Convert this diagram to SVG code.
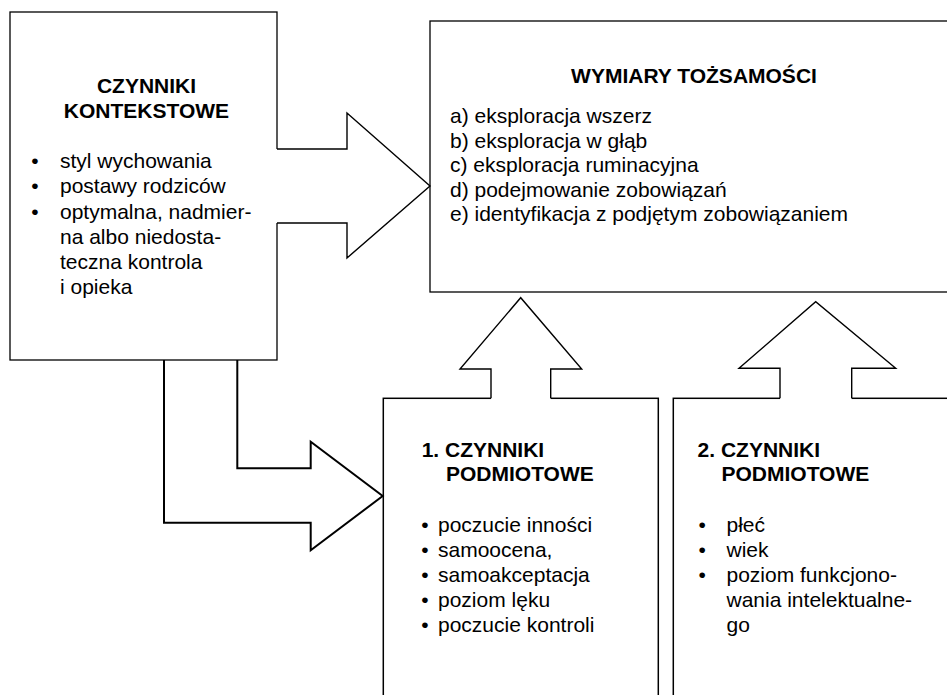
<svg xmlns="http://www.w3.org/2000/svg" width="947" height="695" viewBox="0 0 947 695">
<style>
.box{fill:#fff;stroke:#000;stroke-width:1.3}
.box2{fill:#fff;stroke:#000;stroke-width:1.5}
.t{font-family:"Liberation Sans",Arial,sans-serif;font-size:21px;fill:#000}
.bl{font-family:"Liberation Sans",Arial,sans-serif;font-size:21px;fill:#000}
.b{font-weight:bold}
.mid{text-anchor:middle}
.afill{fill:#fff;stroke:none}
.aline{fill:none;stroke:#000;stroke-width:1.4;stroke-linejoin:miter}
.aline2{fill:none;stroke:#000;stroke-width:2}
</style>
<rect width="947" height="695" fill="#fff"/>
<g id="kontekstowe">
<rect class="box" x="10" y="12" width="267" height="348"/>
<text class="t b mid" x="146.5" y="93.3">CZYNNIKI</text>
<text class="t b mid" x="146.5" y="118.3">KONTEKSTOWE</text>
<text class="bl" x="31.3" y="167.5">•</text>
<text class="t" x="60" y="167.5">styl wychowania</text>
<text class="bl" x="31.3" y="193">•</text>
<text class="t" x="60" y="193">postawy rodziców</text>
<text class="bl" x="31.3" y="218.5">•</text>
<text class="t" x="60" y="218.5">optymalna, nadmier-</text>
<text class="t" x="60" y="243.5">na albo niedosta-</text>
<text class="t" x="60" y="268.5">teczna kontrola</text>
<text class="t" x="60" y="293.5">i opieka</text>
</g>
<g id="wymiary">
<rect class="box" x="430" y="21" width="530" height="271"/>
<text class="t b mid" x="694" y="82.5">WYMIARY TOŻSAMOŚCI</text>
<text class="t" x="450" y="123">a) eksploracja wszerz</text>
<text class="t" x="450" y="147.5">b) eksploracja w głąb</text>
<text class="t" x="450" y="172">c) eksploracja ruminacyjna</text>
<text class="t" x="450" y="196.5">d) podejmowanie zobowiązań</text>
<text class="t" x="450" y="221">e) identyfikacja z podjętym zobowiązaniem</text>
</g>
<g id="podmiotowe1">
<rect class="box2" x="383.3" y="398.3" width="275" height="320"/>
<text class="t b" x="421.7" y="457.3">1. CZYNNIKI</text>
<text class="t b" x="446" y="481">PODMIOTOWE</text>
<text class="bl" x="421.3" y="532.2">•</text>
<text class="t" x="438" y="532.2">poczucie inności</text>
<text class="bl" x="421.3" y="557.2">•</text>
<text class="t" x="438" y="557.2">samoocena,</text>
<text class="bl" x="421.3" y="582.2">•</text>
<text class="t" x="438" y="582.2">samoakceptacja</text>
<text class="bl" x="421.3" y="607.2">•</text>
<text class="t" x="438" y="607.2">poziom lęku</text>
<text class="bl" x="421.3" y="632.2">•</text>
<text class="t" x="438" y="632.2">poczucie kontroli</text>
</g>
<g id="podmiotowe2">
<rect class="box2" x="673.3" y="398.3" width="300" height="320"/>
<text class="t b" x="697.6" y="457.3">2. CZYNNIKI</text>
<text class="t b" x="721.5" y="481">PODMIOTOWE</text>
<text class="bl" x="698.6" y="532.2">•</text>
<text class="t" x="726.5" y="532.2">płeć</text>
<text class="bl" x="698.6" y="557.2">•</text>
<text class="t" x="726.5" y="557.2">wiek</text>
<text class="bl" x="698.6" y="582.2">•</text>
<text class="t" x="726.5" y="582.2">poziom funkcjono-</text>
<text class="t" x="726.5" y="607.2">wania intelektualne-</text>
<text class="t" x="726.5" y="632.2">go</text>
</g>
<g id="connectors">
<path class="afill" d="M276,149 H347 V113 L430,186 L347,258 V223 H276 Z"/>
<path class="aline" d="M277,149 H347 V113 L430,186 L347,258 V223 H277"/>
<path class="aline2" d="M164,360 V522.7 H310.7 V550.3 L382.7,496 L310.7,441.7 V468.3 H237.3 V360"/>
<path class="afill" d="M491,400 V369 H460 L520.7,297.7 L581.7,369 H550.7 V400 Z"/>
<path class="aline" d="M491,398.3 V369 H460 L520.7,297.7 L581.7,369 H550.7 V398.3"/>
<path class="afill" d="M780,400 V368.3 H739 L815.7,301.7 L895.7,368.3 H851.7 V400 Z"/>
<path class="aline" d="M780,398.3 V368.3 H739 L815.7,301.7 L895.7,368.3 H851.7 V398.3"/>
</g>
</svg>
